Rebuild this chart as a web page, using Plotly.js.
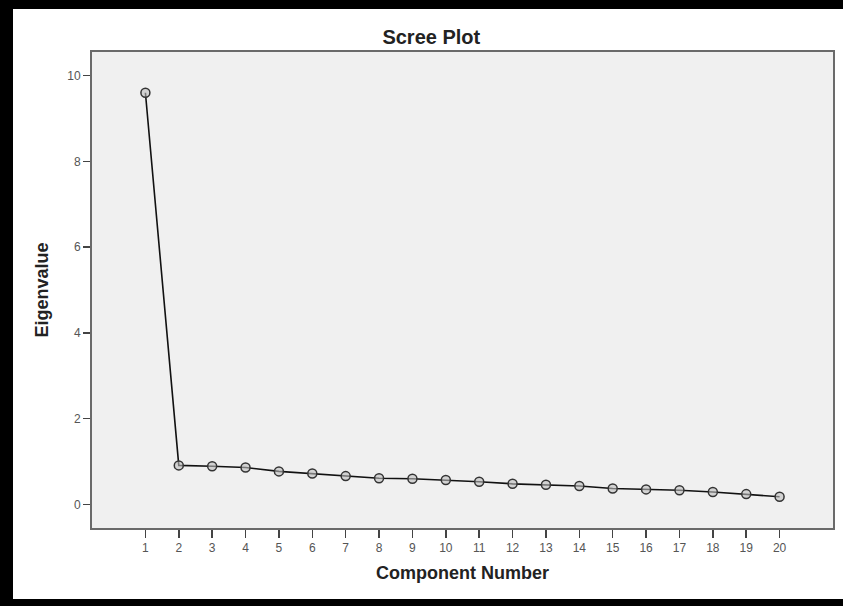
<!DOCTYPE html>
<html>
<head>
<meta charset="utf-8">
<script src="https://cdn.plot.ly/plotly-3.0.1.min.js"></script>
<style>
html, body { margin: 0; padding: 0; background: #000; width: 843px; height: 606px; overflow: hidden; }
#chart { position: absolute; left: 13px; top: 9px; width: 830px; height: 590px; background: #fff; }
</style>
</head>
<body>
<div id="chart"></div>
<script>
const components = [1,2,3,4,5,6,7,8,9,10,11,12,13,14,15,16,17,18,19,20];
const eigenvalues = [9.6, 0.91, 0.89, 0.86, 0.77, 0.72, 0.66, 0.61, 0.60, 0.57, 0.53, 0.48, 0.46, 0.43, 0.37, 0.35, 0.33, 0.29, 0.24, 0.18];
const xTickLabels = components.map(String);
const yTicks = [0, 2, 4, 6, 8, 10];

const trace = {
  x: components,
  y: eigenvalues,
  type: 'scatter',
  mode: 'lines+markers',
  line: { color: '#111', width: 1.6 },
  marker: { symbol: 'circle', size: 9, color: 'rgba(190,190,190,0.6)', line: { color: '#333', width: 1.5 } },
  hoverinfo: 'x+y'
};

const layout = {
  width: 830, height: 590,
  margin: { l: 79, r: 10, t: 43, b: 71 },
  paper_bgcolor: '#ffffff',
  plot_bgcolor: '#f0f0f0',
  showlegend: false,
  font: { family: 'Arial, Liberation Sans, sans-serif', color: '#444' },
  title: {
    text: '<b>Scree Plot</b>',
    font: { size: 20, color: '#222', family: 'Arial, Liberation Sans, sans-serif' },
    xref: 'container', yref: 'container', x: 0.504, y: 0.9525, xanchor: 'center', yanchor: 'middle'
  },
  xaxis: {
    range: [-0.6, 21.6],
    tickvals: components,
    ticktext: xTickLabels,
    ticks: 'outside', ticklen: 8, tickwidth: 1.5, tickcolor: '#444',
    tickfont: { size: 12, color: '#555' },
    showgrid: false, zeroline: false,
    showline: true, linecolor: '#6a6a6a', linewidth: 2, mirror: true,
    title: { text: '<b>Component Number</b>', font: { size: 18, color: '#222' }, standoff: 12 }
  },
  yaxis: {
    range: [-0.55, 10.55],
    tickvals: yTicks,
    ticks: 'outside', ticklen: 7, tickwidth: 1.5, tickcolor: '#444',
    tickfont: { size: 12, color: '#555' },
    showgrid: false, zeroline: false,
    showline: true, linecolor: '#6a6a6a', linewidth: 2, mirror: true,
    title: { text: '<b>Eigenvalue</b>', font: { size: 18, color: '#222' }, standoff: 14 }
  }
};

Plotly.newPlot('chart', [trace], layout, { displayModeBar: false, staticPlot: true });
</script>
</body>
</html>
